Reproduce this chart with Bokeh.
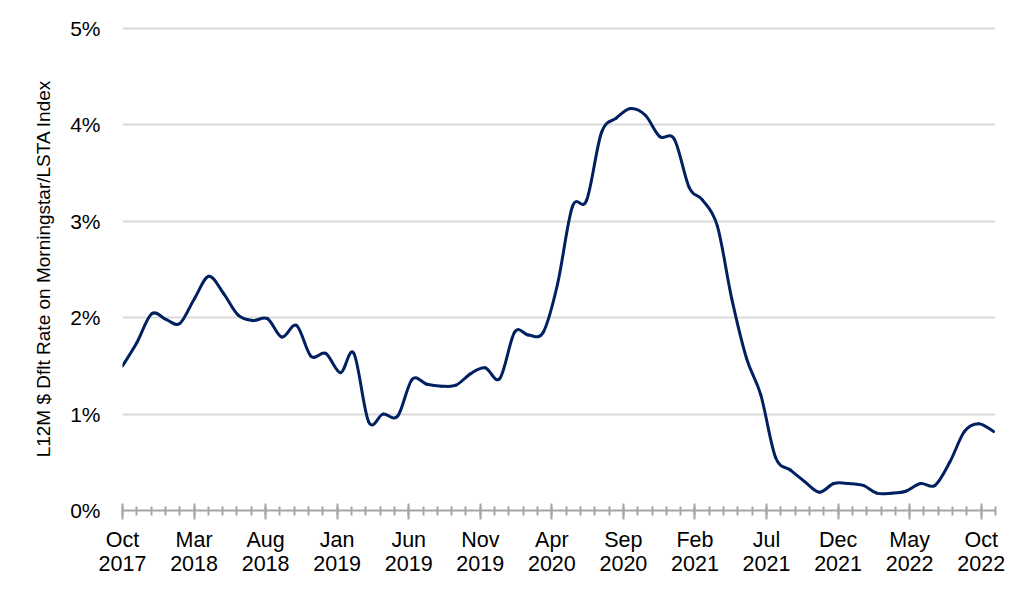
import pandas as pd
from bokeh.plotting import figure
from bokeh.models import Range1d, FixedTicker
from bokeh.embed import file_html
from bokeh.resources import INLINE

# Monthly L12M default rate (%) Oct 2017 .. Oct 2022 (month-end)
start_date = "2017-10-31"
rates = [
    1.50, 1.74, 2.04, 1.98, 1.94, 2.20, 2.43, 2.25, 2.03, 1.97,
    1.99, 1.80, 1.92, 1.60, 1.63, 1.43, 1.63, 0.92, 1.00, 0.98,
    1.36, 1.31, 1.29, 1.30, 1.42, 1.48, 1.37, 1.85, 1.82, 1.85,
    2.35, 3.15, 3.22, 3.92, 4.07, 4.17, 4.10, 3.88, 3.85, 3.35,
    3.22, 2.95, 2.20, 1.58, 1.20, 0.55, 0.42, 0.30, 0.19, 0.28,
    0.28, 0.26, 0.18, 0.18, 0.20, 0.28, 0.26, 0.50, 0.82, 0.90,
    0.82,
]

# axis ticks (days from start), labels
major_tick_days = [0, 150, 300, 450, 600, 750, 900, 1050, 1200, 1350, 1500, 1650, 1800]
minor_tick_days = list(range(0, 1831, 30))
x_tick_labels = ["Oct\n2017", "Mar\n2018", "Aug\n2018", "Jan\n2019", "Jun\n2019",
                 "Nov\n2019", "Apr\n2020", "Sep\n2020", "Feb\n2021", "Jul\n2021",
                 "Dec\n2021", "May\n2022", "Oct\n2022"]
y_ticks = [0, 1, 2, 3, 4, 5]
y_tick_labels = ["0%", "1%", "2%", "3%", "4%", "5%"]
y_title = "L12M $ Dflt Rate on Morningstar/LSTA Index"

t0 = pd.Timestamp(start_date)
dates = [t0 + pd.offsets.MonthEnd(i) for i in range(len(rates))]
dates[0] = t0
xs = [(d - t0).days for d in dates]
ys = rates

# Smoothed line (Catmull-Rom -> cubic Bezier segments through the data points)
n = len(xs)
x0, y0, x1, y1, cx0, cy0, cx1, cy1 = [], [], [], [], [], [], [], []
for k in range(n - 1):
    pm = k - 1 if k > 0 else 0
    pp = k + 2 if k + 2 < n else n - 1
    x0.append(xs[k]); y0.append(ys[k])
    x1.append(xs[k + 1]); y1.append(ys[k + 1])
    cx0.append(xs[k] + (xs[k + 1] - xs[pm]) / 6.0)
    cy0.append(ys[k] + (ys[k + 1] - ys[pm]) / 6.0)
    cx1.append(xs[k + 1] - (xs[pp] - xs[k]) / 6.0)
    cy1.append(ys[k + 1] - (ys[pp] - ys[k]) / 6.0)

FONT = "Liberation Sans"

p = figure(width=1008, height=595, output_backend="svg", toolbar_location=None,
           x_range=Range1d(0, 1830), y_range=Range1d(0, 5.021),
           min_border_left=122, min_border_right=13, min_border_top=26, min_border_bottom=85)
p.outline_line_color = None
p.background_fill_color = "white"

p.bezier(x0=x0, y0=y0, x1=x1, y1=y1, cx0=cx0, cy0=cy0, cx1=cx1, cy1=cy1,
         line_color="#002060", line_width=3, line_cap="round")

# grid
p.xgrid.grid_line_color = None
p.ygrid.grid_line_color = "#d9d9d9"
p.ygrid.grid_line_width = 2
p.ygrid.ticker = FixedTicker(ticks=y_ticks)

# x axis
xa = p.xaxis[0]
xa.ticker = FixedTicker(ticks=major_tick_days, minor_ticks=minor_tick_days)
xa.major_label_overrides = {d: lab for d, lab in zip(major_tick_days, x_tick_labels)}
xa.axis_line_color = "#a6a6a6"
xa.axis_line_width = 2
xa.major_tick_line_color = "#a6a6a6"
xa.major_tick_line_width = 2
xa.major_tick_in = 7
xa.major_tick_out = 9
xa.minor_tick_line_color = "#a6a6a6"
xa.minor_tick_line_width = 2
xa.minor_tick_in = 4
xa.minor_tick_out = 5
xa.major_label_text_font = FONT
xa.major_label_text_font_size = "21.5px"
xa.major_label_text_color = "black"
xa.major_label_text_line_height = 1.02
xa.major_label_standoff = 8

# y axis
ya = p.yaxis[0]
ya.ticker = FixedTicker(ticks=y_ticks)
ya.major_label_overrides = {t: lab for t, lab in zip(y_ticks, y_tick_labels)}
ya.axis_line_color = None
ya.major_tick_line_color = None
ya.minor_tick_line_color = None
ya.major_tick_out = 0
ya.major_tick_in = 0
ya.major_label_standoff = 22
ya.major_label_text_font = FONT
ya.major_label_text_font_size = "21px"
ya.major_label_text_color = "black"
ya.axis_label = y_title
ya.axis_label_text_font = FONT
ya.axis_label_text_font_size = "19px"
ya.axis_label_text_font_style = "normal"
ya.axis_label_text_color = "black"
ya.axis_label_standoff = 13

open("out.html", "w").write(file_html(p, INLINE))
